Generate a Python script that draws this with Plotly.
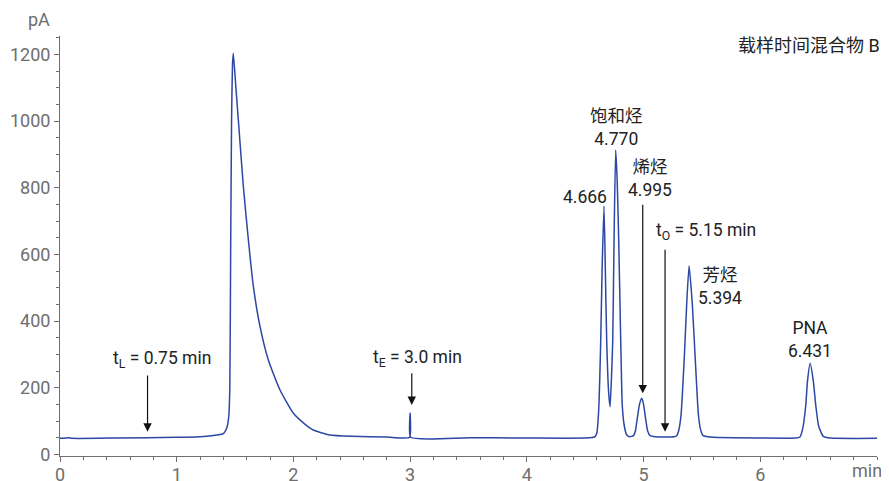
import plotly.graph_objects as go

# ---- data (time in min, signal in pA) ----
time_min = [
    0.00, 0.08, 0.10, 0.50, 1.00, 1.20, 1.30, 1.40, 1.428, 1.445, 1.455, 1.462, 1.470, 1.478, 1.485,
    1.505, 1.528, 1.571, 1.614, 1.657, 1.714, 1.785, 1.885, 2.00, 2.10, 2.17, 2.31, 2.50, 2.80,
    2.995, 3.00, 3.005, 3.50, 4.00, 4.50, 4.58,
    4.599, 4.615, 4.633, 4.644, 4.661, 4.673, 4.684, 4.700, 4.713,
    4.725, 4.736, 4.747, 4.761, 4.774, 4.787, 4.804, 4.818, 4.835, 4.856, 4.88,
    4.913, 4.930, 4.944, 4.965, 4.984, 5.000, 5.019, 5.035, 5.056, 5.10, 5.20, 5.26,
    5.284, 5.30, 5.321, 5.35, 5.369, 5.39, 5.418, 5.441, 5.47, 5.49, 5.51, 5.60, 6.00, 6.30,
    6.34, 6.365, 6.39, 6.404, 6.427, 6.455, 6.475, 6.50, 6.54, 6.60, 7.00,
]
signal_pA = [
    48, 50, 48, 49, 51, 53, 56, 62, 78, 110, 200, 600, 1000, 1170, 1203,
    1110, 1003, 803, 643, 503, 383, 283, 193, 123, 90, 73, 58, 54, 52,
    51, 123, 51, 50, 49, 49, 52,
    63, 130, 343, 543, 745, 543, 343, 190, 143,
    230, 343, 643, 913, 820, 643, 343, 143, 85, 58, 53,
    56, 70, 103, 150, 168, 150, 103, 70, 56, 53, 52, 53,
    56, 70, 118, 298, 448, 566, 448, 298, 118, 72, 56, 51, 49, 49,
    52, 80, 148, 218, 273, 218, 148, 85, 54, 49, 48,
]

x_tick_vals = [0, 1, 2, 3, 4, 5, 6]
y_tick_vals = [0, 200, 400, 600, 800, 1000, 1200]

peak_names = ["乙醇", "", "饱和烃", "烯烃", "芳烃", "PNA"]
peak_times = ["1.481", "4.666", "4.770", "4.995", "5.394", "6.431"]
marker_labels = ["t<sub>L</sub> = 0.75 min", "t<sub>E</sub> = 3.0 min", "t<sub>O</sub> = 5.15 min"]
title_text = "载样时间混合物 B"

FONT = "Roboto, 'Noto Sans CJK SC', sans-serif"
TXT = "#222222"
AX = "#6e6e6e"
LINE = "#2c47a4"

fig = go.Figure()
fig.add_trace(go.Scatter(x=time_min, y=signal_pA, mode="lines",
                         line=dict(color=LINE, width=1.5, shape="spline", smoothing=0.5),
                         hoverinfo="skip"))

ann = []
def label(x, y, text, size=17.5, xanchor="center", xref="x", yref="y"):
    ann.append(dict(x=x, y=y, xref=xref, yref=yref, text=text, showarrow=False,
                    xanchor=xanchor, yanchor="middle",
                    font=dict(family=FONT, size=size, color=TXT)))

def arrow(x, y_tip, y_tail):
    ann.append(dict(x=x, y=y_tip, ax=x, ay=y_tail, xref="x", yref="y", axref="x", ayref="y",
                    text="", showarrow=True, arrowhead=2, arrowsize=1.4, arrowwidth=1.2,
                    arrowcolor="#111111"))

# peak labels
label(1.457, 1268, peak_names[0] + "<br>" + peak_times[0])
label(4.494, 773, peak_times[1])
label(4.770, 982, peak_names[2] + "<br>" + peak_times[2])
label(5.055, 827, peak_names[3] + "<br>" + peak_times[3])
label(5.656, 505, peak_names[4] + "<br>" + peak_times[4])
label(6.427, 346, peak_names[5] + "<br>" + peak_times[5])

# time markers
label(0.878, 285, marker_labels[0])
label(3.063, 288, marker_labels[1])
label(5.531, 668, marker_labels[2])
arrow(0.75, 68, 241)
arrow(3.014, 148, 248)
arrow(4.993, 183, 753)
arrow(5.184, 68, 618)

# corner title and axis unit labels
label(1.006, 1228, title_text, size=18, xanchor="right", xref="paper")
ann.append(dict(x=-0.01, y=1.04, xref="paper", yref="paper", text="pA", showarrow=False,
                xanchor="right", yanchor="middle", font=dict(family=FONT, size=18, color=AX)))
ann.append(dict(x=1.009, y=-0.004, xref="paper", yref="paper", text="min", showarrow=False,
                xanchor="right", yanchor="top", font=dict(family=FONT, size=18, color=AX)))
fig.update_layout(annotations=ann)

# the page body adds an 8 px offset, so the figure is 8 px smaller on each axis
fig.update_layout(
    width=881, height=473,
    margin=dict(l=52, r=12, t=28, b=25),
    paper_bgcolor="white", plot_bgcolor="white",
    showlegend=False,
    font=dict(family=FONT, color=AX, size=18),
    xaxis=dict(range=[0, 7], tickvals=x_tick_vals, ticktext=[str(v) for v in x_tick_vals],
               automargin=False, ticklabelstandoff=-3,
               showgrid=False, zeroline=False, showline=True, linecolor=AX, linewidth=1,
               ticks="outside", ticklen=5, tickcolor=AX, tickwidth=1,
               minor=dict(dtick=0.2, ticks="outside", ticklen=3, tickcolor=AX, showgrid=False),
               tickfont=dict(family=FONT, size=18, color=AX)),
    yaxis=dict(range=[-5, 1255], tickvals=y_tick_vals, ticktext=[str(v) for v in y_tick_vals],
               automargin=False,
               showgrid=False, zeroline=False, showline=True, linecolor=AX, linewidth=1,
               ticks="outside", ticklen=5, tickcolor=AX, tickwidth=1,
               minor=dict(dtick=50, ticks="outside", ticklen=3, tickcolor=AX, showgrid=False),
               tickfont=dict(family=FONT, size=18, color=AX)),
)

fig.write_html("out.html")
